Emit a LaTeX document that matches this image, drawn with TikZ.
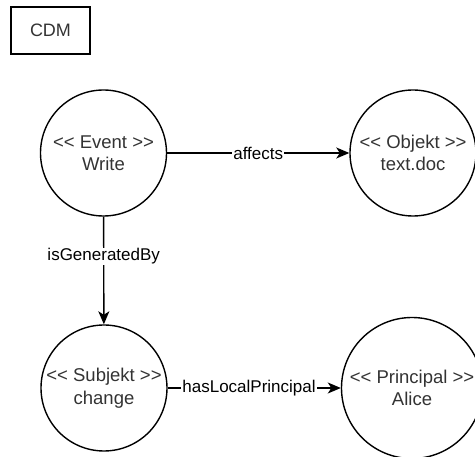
\documentclass[tikz,border=0pt]{standalone}
\usepackage{fontspec}
\setmainfont{Liberation Sans}[Ligatures=ResetAll]
\usetikzlibrary{arrows.meta}
\definecolor{txtgrey}{HTML}{333333}
\newcommand{\opn}{{<}{<}}
\newcommand{\cls}{{>}{>}}
\begin{document}
\begin{tikzpicture}[x=1pt,y=-1pt,
  every node/.style={font=\fontsize{17}{21.5}\selectfont},
  ent/.style={draw=black, line width=1.4pt, circle, inner sep=0pt,
              minimum size=126pt, align=center, text=txtgrey,
              font=\fontsize{18.5}{22.5}\selectfont},
  tagbox/.style={draw=black, line width=1.4pt, rectangle, inner sep=0pt,
              minimum width=79pt, minimum height=47pt, text=txtgrey,
              font=\fontsize{18}{22}\selectfont},
  rel/.style={line width=1.4pt,
              -{Stealth[length=13pt,width=11pt,inset=3.5pt]}},
  lbl/.style={fill=white, inner sep=1pt, text=black}]
  \useasboundingbox (0,0) rectangle (475,457);

  % title tag
  \node[tagbox] (cdm) at (50.5,30.5) {CDM};

  % entities
  \node[ent] (event) at (103.5,153) {\opn{} Event \cls\\Write};
  \node[ent] (obj) at (413,153) {\opn{} Objekt \cls\\text.doc};
  \node[ent] (subj) at (104,388) {\opn{} Subjekt \cls\\change};
  \node[ent, minimum size=141pt] (princ) at (412,388) {\opn{} Principal \cls\\Alice};

  % relations
  \draw[rel] (event) -- node[lbl] {affects} (obj);
  \draw[rel] (event) -- node[lbl, pos=0.37] {isGeneratedBy} (subj);
  \draw[rel] (subj) -- node[lbl, pos=0.47] {hasLocalPrincipal} (princ);
\end{tikzpicture}
\end{document}
